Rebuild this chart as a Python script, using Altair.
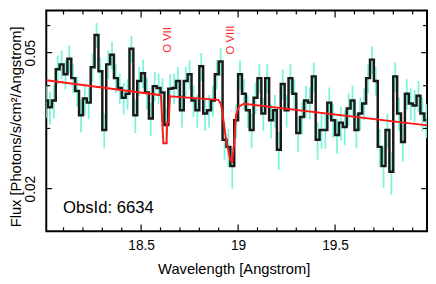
import altair as alt
import pandas as pd

# ---------------- data ----------------
bin_start = 18.01      # centre of the first 0.02 A bin
bin_width = 0.02

flux = [0.0362, 0.0346, 0.0362, 0.0447, 0.0462, 0.0432, 0.0480, 0.0421, 0.0386, 0.0328,
        0.0367, 0.0357, 0.0453, 0.0563, 0.0441, 0.0297, 0.0462, 0.0493, 0.0421, 0.0394,
        0.0369, 0.0379, 0.0513, 0.0328, 0.0413, 0.0435, 0.0382, 0.0321, 0.0399, 0.0394,
        0.0382, 0.0307, 0.0392, 0.0394, 0.0413, 0.0339, 0.0413, 0.0432, 0.0362, 0.0339,
        0.0456, 0.0332, 0.0339, 0.0362, 0.0432, 0.0471, 0.0278, 0.0265, 0.0233, 0.0317,
        0.0432, 0.0379, 0.0339, 0.0297, 0.0369, 0.0421, 0.0332, 0.0421, 0.0317, 0.0339,
        0.0260, 0.0405, 0.0339, 0.0421, 0.0379, 0.0291, 0.0324, 0.0362, 0.0357, 0.0426,
        0.0278, 0.0297, 0.0297, 0.0357, 0.0317, 0.0287, 0.0312, 0.0303, 0.0343, 0.0362,
        0.0297, 0.0332, 0.0355, 0.0421, 0.0477, 0.0413, 0.0265, 0.0233, 0.0297, 0.0224,
        0.0426, 0.0332, 0.0274, 0.0379, 0.0355, 0.0350, 0.0374, 0.0332, 0.0317]

err = [0.0040, 0.0038, 0.0041, 0.0043, 0.0044, 0.0042, 0.0045, 0.0041, 0.0039, 0.0036,
       0.0039, 0.0038, 0.0043, 0.0047, 0.0042, 0.0035, 0.0044, 0.0045, 0.0041, 0.0040,
       0.0039, 0.0039, 0.0046, 0.0037, 0.0041, 0.0042, 0.0040, 0.0036, 0.0040, 0.0040,
       0.0039, 0.0036, 0.0040, 0.0040, 0.0041, 0.0037, 0.0041, 0.0042, 0.0038, 0.0037,
       0.0043, 0.0037, 0.0037, 0.0038, 0.0042, 0.0044, 0.0035, 0.0034, 0.0033, 0.0036,
       0.0042, 0.0039, 0.0037, 0.0035, 0.0039, 0.0041, 0.0037, 0.0041, 0.0036, 0.0037,
       0.0033, 0.0041, 0.0037, 0.0041, 0.0039, 0.0035, 0.0036, 0.0038, 0.0038, 0.0042,
       0.0035, 0.0035, 0.0035, 0.0038, 0.0036, 0.0034, 0.0036, 0.0035, 0.0037, 0.0038,
       0.0035, 0.0037, 0.0038, 0.0041, 0.0044, 0.0041, 0.0034, 0.0032, 0.0035, 0.0032,
       0.0042, 0.0037, 0.0034, 0.0039, 0.0038, 0.0038, 0.0039, 0.0037, 0.0036]

model_wave = [18.011, 18.602, 18.6147, 18.6314, 18.634, 18.6426, 18.6477,
              18.898, 18.911, 18.918, 18.929, 18.939, 18.949, 18.959, 18.969,
              18.979, 18.989, 19.004, 19.030, 19.975]
model_flux = [0.04153, 0.03753, 0.02715, 0.02715, 0.03125, 0.03125, 0.03728,
              0.03638, 0.03544, 0.03383, 0.03022, 0.02773, 0.02597, 0.02430, 0.02399,
              0.02684, 0.03273, 0.03474, 0.03544, 0.03063]

line_names = ["O VII", "O VIII"]
line_label_wave = [18.640, 18.964]

obs_label = ["ObsId: 6634"]

x_major_ticks = [18.5, 19.0, 19.5]
x_minor_ticks = [18.1, 18.2, 18.3, 18.4, 18.6, 18.7, 18.8, 18.9,
                 19.1, 19.2, 19.3, 19.4, 19.6, 19.7, 19.8, 19.9]
y_major_ticks = [0.02, 0.05]
y_minor_ticks = [0.03, 0.04, 0.06]

# ---------------- tables ----------------
wave = [round(bin_start + bin_width * i, 4) for i in range(len(flux))]
spec = pd.DataFrame({"wave": wave, "flux": flux, "err": err})
spec["lo"] = spec["flux"] - spec["err"]
spec["hi"] = spec["flux"] + spec["err"]
model = pd.DataFrame({"wave": model_wave, "flux": model_flux})
labels = pd.DataFrame({"wave": line_label_wave, "name": line_names})

W, H = 388, 225
FONT = "Liberation Sans"

xs = alt.Scale(domain=[18.011, 19.974], nice=False, zero=False)
ys = alt.Scale(type="log", domain=[0.015, 0.06638], nice=False)

xaxis = alt.Axis(values=x_major_ticks, format="~g", title="Wavelength [Angstrom]",
                 ticks=False, tickSize=0, domain=False, grid=False,
                 labelFont=FONT, labelFontSize=14, labelColor="black", labelPadding=8,
                 titleFont=FONT, titleFontSize=15, titleFontWeight="normal", titleColor="black",
                 titleX=191, titleY=38, titleBaseline="middle", titleAlign="center")
yaxis = alt.Axis(values=y_major_ticks, format=".2f", title="Flux [Photons/s/cm²/Angstrom]",
                 ticks=False, tickSize=0, domain=False, grid=False,
                 labelFont=FONT, labelFontSize=14, labelColor="black", labelPadding=9,
                 labelAngle=270, labelAlign="center", labelBaseline="bottom",
                 titleFont=FONT, titleFontSize=15, titleFontWeight="normal", titleColor="black",
                 titleAngle=270, titleX=-31, titleY=118, titleBaseline="middle", titleAlign="center")

X = alt.X("wave:Q", scale=xs, axis=xaxis)
Y = alt.Y("flux:Q", scale=ys, axis=yaxis)

errbars = alt.Chart(spec).mark_rule(color="#7DF4DA", strokeWidth=1.8, clip=True).encode(
    x=X, y=alt.Y("lo:Q", scale=ys, axis=yaxis), y2="hi:Q")
hist = alt.Chart(spec).mark_line(interpolate="step", color="#1a1a1a", strokeWidth=2.5, clip=True).encode(
    x=X, y=Y)
mod = alt.Chart(model).mark_line(color="#FF1A1A", strokeWidth=2, clip=True).encode(x=X, y=Y)
lab = alt.Chart(labels).mark_text(color="#FF1A1A", font=FONT, fontSize=11.5, angle=270,
                                  align="center", baseline="middle").encode(
    x=X, y=alt.value(30), text="name:N")
obs = alt.Chart(pd.DataFrame({"label": obs_label})).mark_text(
    font=FONT, fontSize=17, color="black", align="left", baseline="alphabetic").encode(
    x=alt.value(17), y=alt.value(206), text="label:N")


def xticks(vals, length):
    d = pd.DataFrame({"wave": vals})
    bottom = alt.Chart(d).mark_rule(color="black", strokeWidth=1.2).encode(
        x=X, y=alt.value(H), y2=alt.value(H - length))
    top = alt.Chart(d).mark_rule(color="black", strokeWidth=1.2).encode(
        x=X, y=alt.value(0), y2=alt.value(length))
    return [bottom, top]


def yticks(vals, length):
    d = pd.DataFrame({"flux": vals})
    left = alt.Chart(d).mark_rule(color="black", strokeWidth=1.2).encode(
        y=Y, x=alt.value(0), x2=alt.value(length))
    right = alt.Chart(d).mark_rule(color="black", strokeWidth=1.2).encode(
        y=Y, x=alt.value(W), x2=alt.value(W - length))
    return [left, right]


layers = [errbars, hist, mod, lab, obs]
layers += xticks(x_major_ticks, 7) + xticks(x_minor_ticks, 4)
layers += yticks(y_major_ticks, 6) + yticks(y_minor_ticks, 4)

chart = alt.layer(*layers).properties(
    width=W, height=H,
    autosize=alt.AutoSizeParams(type="none"),
    padding={"left": 39, "top": 0, "right": 1, "bottom": 48},
).configure_view(stroke="black", strokeWidth=2)

chart.save("out.html", embed_options={"renderer": "svg", "actions": False})
